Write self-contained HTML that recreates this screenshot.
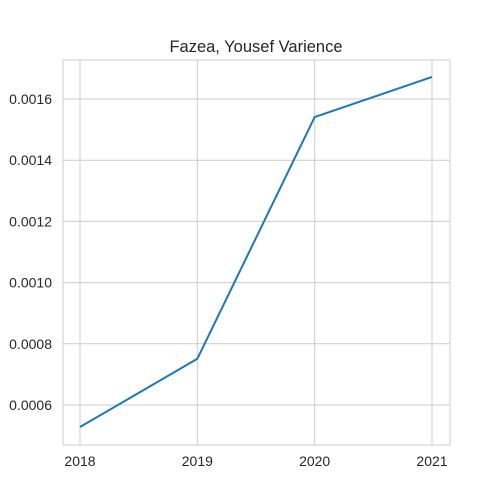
<!DOCTYPE html>
<html><head><meta charset="utf-8">
<style>
body{margin:0;background:#fff;}
svg{display:block;font-family:"Liberation Sans","DejaVu Sans",sans-serif;}
</style></head>
<body>
<svg id="chart" width="500" height="500">
<rect x="0" y="0" width="500" height="500" fill="#fff"/>
<g id="grid"></g>
<rect x="63" y="60" width="387" height="385" fill="none" stroke="#cccccc" stroke-width="1"/>
<text x="256" y="52" text-anchor="middle" font-size="16.5" fill="#262626">Fazea, Yousef Varience</text>
<g id="ticks"></g>
<path id="line" fill="none" stroke="#1f77b4" stroke-width="2"/>
</svg>
<script>
const categories = ["2018","2019","2020","2021"];
const values = [0.000528, 0.000751, 0.001541, 0.001672];
const yTicks = [0.0006,0.0008,0.0010,0.0012,0.0014,0.0016];
const yTickLabels = ["0.0006","0.0008","0.0010","0.0012","0.0014","0.0016"];

const NS="http://www.w3.org/2000/svg";
function xScale(i){return 80 + i*(432-80)/(categories.length-1);}
function yScale(v){return 405 - (v-0.0006)/0.0002*61.2;}
const grid=document.getElementById('grid'), ticks=document.getElementById('ticks');
function mk(tag,attrs,parent){const e=document.createElementNS(NS,tag);for(const k in attrs)e.setAttribute(k,attrs[k]);parent.appendChild(e);return e;}
categories.forEach((c,i)=>{
  const x=xScale(i);
  const l=mk('line',{x1:x,x2:x,y1:60,y2:445,stroke:'#cccccc','stroke-width':1},grid);
  
  
  const t=mk('text',{x:x,y:466,'text-anchor':'middle','font-size':14,fill:'#262626'},ticks);
  t.textContent=c;
  
  
});
yTicks.forEach((v,i)=>{
  const y=yScale(v);
  const l=mk('line',{x1:63,x2:450,y1:y,y2:y,stroke:'#cccccc','stroke-width':1},grid);
  
  
  const t=mk('text',{x:52,y:y+5,'text-anchor':'end','font-size':14,fill:'#262626'},ticks);
  t.textContent=yTickLabels[i];
  
  
});
document.getElementById('line').setAttribute('d',values.map((v,i)=>(i?'L':'M')+xScale(i)+','+yScale(v)).join(' '));
</script>
</body></html>
